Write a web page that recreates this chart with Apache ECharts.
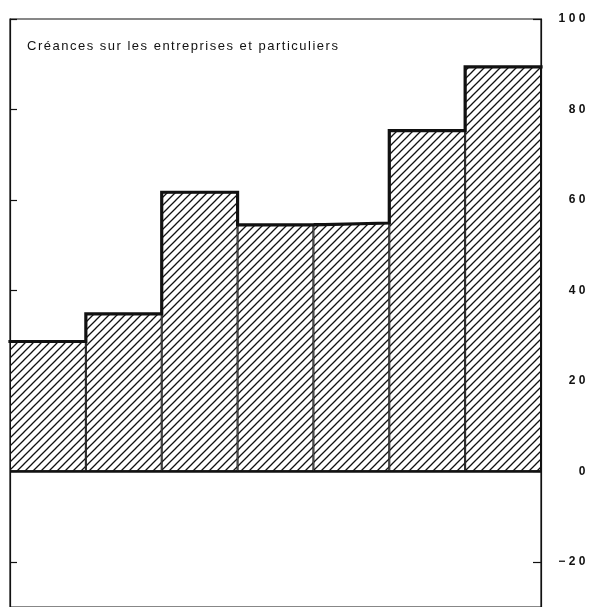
<!DOCTYPE html>
<html>
<head>
<meta charset="utf-8">
<script src="https://cdn.jsdelivr.net/npm/echarts@6/dist/echarts.min.js"></script>
<style>
html,body{margin:0;padding:0;background:#fff;}
#chart{width:594px;height:607px;}
</style>
</head>
<body>
<div id="chart"></div>
<script>
// Data
const categories = ['1', '2', '3', '4', '5', '6', '7'];
const values = [28.7, 34.8, 61.7, 54.5, 54.9, 75.3, 89.4];
const yTicks = [-20, 0, 20, 40, 60, 80, 100];
const yTickLabels = ['\u221220', '0', '20', '40', '60', '80', '100'];
const titleText = 'Créances sur les entreprises et particuliers';

// letter spacing for the drawn text (typewriter-like spacing of the original)
(function () {
  const proto = CanvasRenderingContext2D.prototype;
  const origFill = proto.fillText;
  proto.fillText = function (text, x, y, maxW) {
    try { this.letterSpacing = /bold/.test(this.font) ? '3.5px' : '1.5px'; } catch (e) {}
    return maxW === undefined ? origFill.call(this, text, x, y) : origFill.call(this, text, x, y, maxW);
  };
})();

// hatch pattern
const pc = document.createElement('canvas');
pc.width = 8; pc.height = 8;
const g = pc.getContext('2d');
g.fillStyle = '#fff'; g.fillRect(0, 0, 8, 8);
g.strokeStyle = '#111'; g.lineWidth = 1.3;
g.beginPath();
g.moveTo(-1, 9); g.lineTo(9, -1);
g.moveTo(-1, 1); g.lineTo(1, -1);
g.moveTo(7, 9); g.lineTo(9, 7);
g.stroke();

// step outline built from the values
const stepData = [];
values.forEach((v, i) => { stepData.push([i, v]); stepData.push([i + 1, v]); });

const chart = echarts.init(document.getElementById('chart'), null, {renderer: 'canvas'});
const font = '"Liberation Sans", Arial, Helvetica, sans-serif';
chart.setOption({
  animation: false,
  backgroundColor: '#fff',
  title: {
    text: titleText,
    left: 27, top: 40, padding: 0,
    textStyle: {fontFamily: font, fontSize: 13, fontWeight: 'normal', color: '#111'}
  },
  grid: {
    left: 10, top: 19, width: 531, height: 590.2,
    show: true, borderColor: '#111', borderWidth: 1.2, backgroundColor: 'transparent'
  },
  xAxis: [{
    type: 'category', data: categories, position: 'bottom',
    boundaryGap: true,
    axisLine: {onZero: false, lineStyle: {color: '#111', width: 1.2}},
    axisTick: {inside: true, length: 8, lineStyle: {color: '#111', width: 1.2}},
    axisLabel: {show: false},
    splitLine: {show: false}
  }, {
    type: 'value', min: 0, max: 7, show: false, position: 'top'
  }],
  yAxis: [{
    type: 'value', min: -30, max: 100, position: 'right',
    axisLine: {show: true, onZero: false, lineStyle: {color: '#111', width: 1.2}},
    axisTick: {show: true, inside: true, length: 8, customValues: yTicks, lineStyle: {color: '#111', width: 1.2}},
    axisLabel: {
      show: true, customValues: yTicks, align: 'right', margin: 48,
      formatter: function (v) { const i = yTicks.indexOf(v); return i >= 0 ? yTickLabels[i] : ''; },
      fontFamily: font, fontSize: 12, fontWeight: 'bold', color: '#111'
    },
    splitLine: {show: false}
  }, {
    type: 'value', min: -30, max: 100, position: 'left',
    axisLine: {show: true, onZero: false, lineStyle: {color: '#111', width: 1.2}},
    axisTick: {show: true, inside: true, length: 7, customValues: yTicks, lineStyle: {color: '#111', width: 1.2}},
    axisLabel: {show: false},
    splitLine: {show: false}
  }],
  series: [{
    type: 'bar', data: values, xAxisIndex: 0, yAxisIndex: 0,
    barWidth: '100%', barCategoryGap: 0,
    itemStyle: {color: {image: pc, repeat: 'repeat'}, borderColor: '#111', borderWidth: 1},
    markLine: {
      silent: true, symbol: ['none', 'none'],
      label: {show: false},
      lineStyle: {color: '#111', width: 2.5, type: 'solid'},
      data: [{yAxis: 0}]
    },
    z: 2
  }, {
    type: 'line', data: stepData, xAxisIndex: 1, yAxisIndex: 0,
    symbol: 'none', lineStyle: {color: '#111', width: 3.2, join: 'miter', cap: 'square'},
    z: 5
  }]
});
</script>
</body>
</html>
